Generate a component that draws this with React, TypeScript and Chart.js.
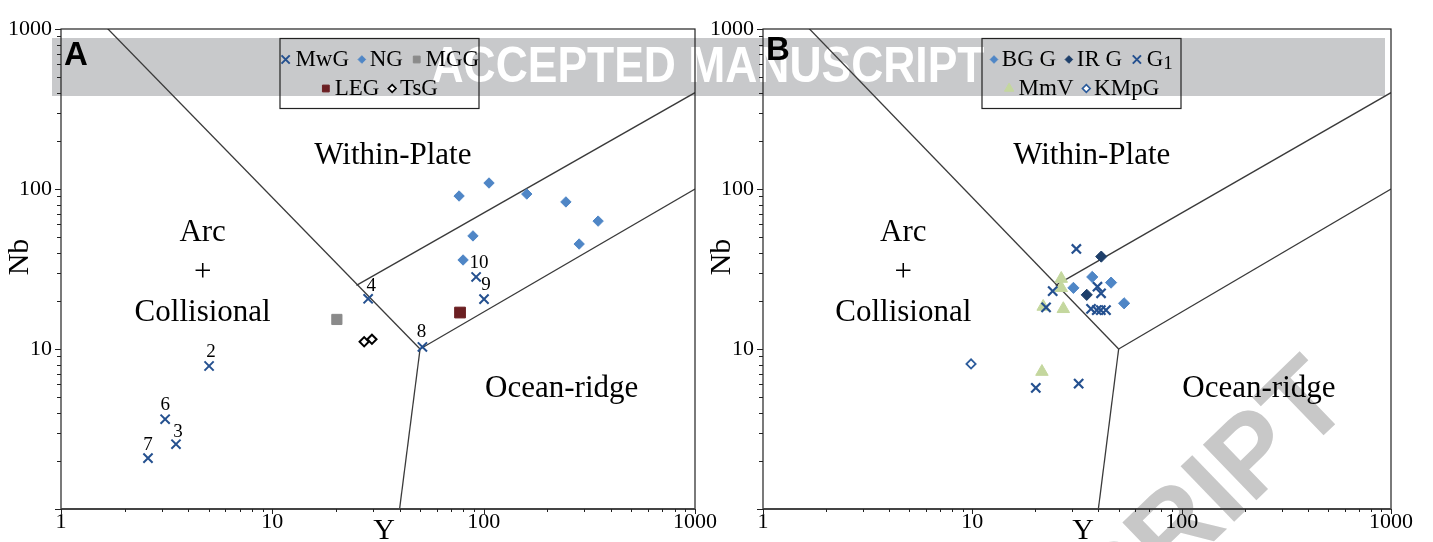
import React, { useEffect, useRef } from 'react';
import { Chart, registerables } from 'chart.js';

Chart.register(...registerables);

const SERIF = "'Liberation Serif', 'Times New Roman', serif";
const SANS = "'Liberation Sans', Arial, sans-serif";

// ---------- axes ----------
const axisMin = 1;
const axisMax = 1000;
const decadeTicks = [1, 10, 100, 1000];
const xTitle = 'Y';
const yTitle = 'Nb';

// ---------- discrimination boundaries (Y, Nb) ----------
const boundaryLines: [number, number][][] = [
  [[1, 2000], [50, 10]],
  [[50, 10], [1000, 100]],
  [[25, 25], [1000, 400]],
  [[50, 10], [40, 1]],
];

// ---------- field labels (Y, Nb) ----------
const fieldNames = ['Within-Plate', 'Arc', '+', 'Collisional', 'Ocean-ridge'];
const fieldY = [37.2, 4.68, 4.68, 4.68, 234];
const fieldNb = [161, 53, 29.9, 16.8, 5.6];

// ---------- panel A ----------
const mwgY = [2.58, 3.5, 3.11, 5.02, 28.4, 51.3, 92.1, 100.4];
const mwgNb = [2.08, 2.54, 3.64, 7.83, 20.6, 10.3, 28.2, 20.5];
const mwgNumbers = ['7', '3', '6', '2', '4', '8', '10', '9'];
const ngY = [76.5, 106, 160, 245, 348, 89, 283, 79.9];
const ngNb = [90.4, 109, 93, 83, 63, 50.9, 45.3, 36];
const mggY = [20.2];
const mggNb = [15.3];
const legY = [77.3];
const legNb = [16.9];
const tsgY = [27.2, 29.6];
const tsgNb = [11.1, 11.5];

// ---------- panel B ----------
const bggY = [30.4, 37.4, 46.0, 53.1];
const bggNb = [24.1, 28.2, 26.0, 19.3];
const irgY = [41.3, 35.2];
const irgNb = [37.8, 21.8];
const g1Y = [31.4, 24.2, 22.5, 39.6, 41.2, 36.9, 39.3, 41.1, 43.5, 20.1, 32.2];
const g1Nb = [42.2, 23.0, 18.2, 24.5, 22.3, 17.8, 17.5, 17.5, 17.5, 5.71, 6.07];
const mmvY = [26.6, 26.6, 27.2, 21.8, 21.5];
const mmvNb = [27.5, 24.1, 17.8, 18.4, 7.21];
const kmpgY = [9.86];
const kmpgNb = [8.06];

// ---------- helpers ----------
const pts = (xs: number[], ys: number[]) => xs.map((x, i) => ({ x, y: ys[i] }));
const isDecade = (v: number) => Math.abs(Math.log10(v) - Math.round(Math.log10(v))) < 1e-9;

function drawMarker(ctx: CanvasRenderingContext2D, style: string, x: number, y: number, r: number,
  stroke: string, fill: string | null, lw: number) {
  ctx.save();
  ctx.beginPath();
  ctx.lineWidth = lw;
  ctx.strokeStyle = stroke;
  if (fill) ctx.fillStyle = fill;
  if (style === 'crossRot') {
    const d = r * Math.SQRT1_2;
    ctx.moveTo(x - d, y - d); ctx.lineTo(x + d, y + d);
    ctx.moveTo(x - d, y + d); ctx.lineTo(x + d, y - d);
    ctx.stroke();
  } else if (style === 'rectRot') {
    ctx.moveTo(x, y - r); ctx.lineTo(x + r, y); ctx.lineTo(x, y + r); ctx.lineTo(x - r, y); ctx.closePath();
    if (fill) ctx.fill();
    ctx.stroke();
  } else if (style === 'rect') {
    const s = r * Math.SQRT1_2;
    ctx.rect(x - s, y - s, 2 * s, 2 * s);
    if (fill) ctx.fill();
    ctx.stroke();
  } else if (style === 'triangle') {
    const a = -Math.PI / 2;
    for (let k = 0; k < 3; k++) {
      const t = a + k * (2 * Math.PI / 3);
      const px = x + Math.cos(t) * r, py = y + Math.sin(t) * r;
      if (k === 0) ctx.moveTo(px, py); else ctx.lineTo(px, py);
    }
    ctx.closePath();
    if (fill) ctx.fill();
    ctx.stroke();
  }
  ctx.restore();
}

function scatterSet(label: string, xs: number[], ys: number[], style: string, r: number,
  fill: string, stroke: string, bw: number, legendR: number) {
  return {
    label,
    data: pts(xs, ys),
    pointStyle: style,
    pointRadius: r,
    pointBackgroundColor: fill,
    pointBorderColor: stroke,
    pointBorderWidth: bw,
    showLine: false,
    legendR,
  } as any;
}

function boundarySets() {
  return boundaryLines.map((seg) => ({
    label: '',
    data: seg.map(([x, y]) => ({ x, y })),
    showLine: true,
    borderColor: '#3a3a3a',
    borderWidth: 1.3,
    pointRadius: 0,
  } as any));
}

type PanelSpec = {
  letter: string;
  letterBase: number;
  datasets: any[];
  legendRows: number[][];
  numbers?: { idx: number; labels: string[]; offsets: [number, number][] };
  yWidth: number;
  padRight: number;
};

const panelA: PanelSpec = {
  letter: 'A',
  letterBase: 36,
  datasets: [
    scatterSet('MwG', mwgY, mwgNb, 'crossRot', 6.5, '#24508f', '#24508f', 2, 5.8),
    scatterSet('NG', ngY, ngNb, 'rectRot', 5.2, '#4f86c6', '#4f86c6', 1, 3.8),
    scatterSet('MGG', mggY, mggNb, 'rect', 7.2, '#8a8a8a', '#8a8a8a', 1, 4.8),
    scatterSet('LEG', legY, legNb, 'rect', 7.6, '#6b1f22', '#6b1f22', 1, 4.8),
    scatterSet('TsG', tsgY, tsgNb, 'rectRot', 4.6, '#ffffff', '#000000', 2, 3.8),
  ],
  legendRows: [[0, 1, 2], [3, 4]],
  numbers: {
    idx: 0,
    labels: mwgNumbers,
    offsets: [[0, -13], [2, -12], [0, -14], [2, -14], [3, -13], [-1, -15], [3, -14], [2, -14]],
  },
  yWidth: 61,
  padRight: 35,
};

const panelB: PanelSpec = {
  letter: 'B',
  letterBase: 31,
  datasets: [
    scatterSet('BG G', bggY, bggNb, 'rectRot', 5.6, '#4f86c6', '#4f86c6', 1, 3.8),
    scatterSet('IR G', irgY, irgNb, 'rectRot', 5.6, '#1e3f6a', '#1e3f6a', 1, 3.8),
    scatterSet('G_1', g1Y, g1Nb, 'crossRot', 6.5, '#24508f', '#24508f', 2.2, 5.8),
    scatterSet('MmV', mmvY, mmvNb, 'triangle', 7.2, '#c4d79e', '#c4d79e', 1, 5.4),
    scatterSet('KMpG', kmpgY, kmpgNb, 'rectRot', 4.6, '#ffffff', '#2c5c9c', 1.8, 3.8),
  ],
  legendRows: [[0, 1, 2], [3, 4]],
  yWidth: 63,
  padRight: 42,
};

function labelWidth(ctx: CanvasRenderingContext2D, label: string, font: string, subFont: string) {
  const parts = label.split('_');
  ctx.font = font;
  let w = ctx.measureText(parts[0]).width;
  if (parts[1]) { ctx.font = subFont; w += ctx.measureText(parts[1]).width; }
  return w;
}

function drawLabel(ctx: CanvasRenderingContext2D, label: string, x: number, y: number, font: string, subFont: string) {
  const parts = label.split('_');
  ctx.font = font;
  ctx.textAlign = 'left';
  ctx.textBaseline = 'middle';
  ctx.fillText(parts[0], x, y);
  if (parts[1]) {
    const w = ctx.measureText(parts[0]).width;
    ctx.font = subFont;
    ctx.fillText(parts[1], x + w, y + 5);
  }
}

function makePlugin(spec: PanelSpec) {
  return {
    id: 'panelDeco' + spec.letter,
    afterDraw(chart: any) {
      const { ctx, chartArea: ca } = chart;
      const xs = chart.scales.x, ys = chart.scales.y;
      ctx.save();
      // frame
      ctx.strokeStyle = '#222';
      ctx.lineWidth = 1.2;
      ctx.strokeRect(ca.left, ca.top, ca.right - ca.left, ca.bottom - ca.top);
      ctx.strokeStyle = '#444';
      ctx.lineWidth = 2;
      ctx.beginPath();
      ctx.moveTo(ca.left, ca.bottom); ctx.lineTo(ca.right, ca.bottom);
      ctx.stroke();
      // ticks
      ctx.strokeStyle = '#222';
      ctx.lineWidth = 1;
      for (let d = 0; d < 3; d++) {
        for (let m = 1; m <= 10; m++) {
          const v = m * Math.pow(10, d);
          const major = m === 1 || m === 10;
          const py = Math.round(ys.getPixelForValue(v)) + 0.5;
          const px = Math.round(xs.getPixelForValue(v)) + 0.5;
          ctx.beginPath();
          ctx.moveTo(ca.left, py); ctx.lineTo(ca.left - (major ? 6 : 4), py);
          ctx.moveTo(px, ca.bottom); ctx.lineTo(px, ca.bottom + (major ? 5 : 3));
          ctx.stroke();
        }
      }
      ctx.fillStyle = '#000';
      // axis titles
      ctx.font = `30px ${SERIF}`;
      ctx.textAlign = 'center';
      ctx.textBaseline = 'alphabetic';
      ctx.fillText(xTitle, (ca.left + ca.right) / 2 + 6, 539);
      ctx.save();
      ctx.translate(ca.left - 41, 257);
      ctx.rotate(-Math.PI / 2);
      ctx.textBaseline = 'middle';
      ctx.fillText(yTitle, 0, 0);
      ctx.restore();
      // field labels
      ctx.font = `31px ${SERIF}`;
      ctx.textAlign = 'center';
      ctx.textBaseline = 'middle';
      fieldNames.forEach((t, i) => {
        ctx.fillText(t, xs.getPixelForValue(fieldY[i]), ys.getPixelForValue(fieldNb[i]));
      });
      // sample numbers
      if (spec.numbers) {
        const ds = chart.data.datasets[spec.numbers.idx];
        ctx.font = `19px ${SERIF}`;
        ds.data.forEach((p: any, i: number) => {
          const [ox, oy] = spec.numbers!.offsets[i];
          ctx.fillText(spec.numbers!.labels[i], xs.getPixelForValue(p.x) + ox, ys.getPixelForValue(p.y) + oy);
        });
      }
      // panel letter
      ctx.font = `bold 33px ${SANS}`;
      ctx.textAlign = 'left';
      ctx.textBaseline = 'alphabetic';
      ctx.fillText(spec.letter, ca.left + 3, ca.top + spec.letterBase);
      // legend
      const bx = ca.left + 219, by = ca.top + 9.5, bw = 199, bh = 70;
      ctx.strokeStyle = '#222';
      ctx.lineWidth = 1.2;
      ctx.strokeRect(bx, by, bw, bh);
      const font = `23px ${SERIF}`, subFont = `19px ${SERIF}`;
      const rowY = [21, 50];
      spec.legendRows.forEach((row, ri) => {
        const items = row.map((i) => {
          const d = chart.data.datasets[i];
          const mw = d.legendR * 2;
          return { d, mw, w: mw + 4 + labelWidth(ctx, d.label, font, subFont) };
        });
        const gap = 9;
        const total = items.reduce((s, it) => s + it.w, 0) + gap * (items.length - 1);
        let x = bx + bw / 2 - total / 2;
        const cy = by + rowY[ri];
        items.forEach((it) => {
          const d = it.d;
          drawMarker(ctx, d.pointStyle, x + it.mw / 2, cy, d.legendR, d.pointBorderColor, d.pointBackgroundColor,
            d.pointStyle === 'crossRot' ? 2 : (d.pointBackgroundColor === '#ffffff' ? 1.7 : 1));
          ctx.fillStyle = '#000';
          drawLabel(ctx, d.label, x + it.mw + 4, cy, font, subFont);
          x += it.w + gap;
        });
      });
      ctx.restore();
    },
  };
}

function makeConfig(spec: PanelSpec): any {
  const tickFont = { family: SERIF, size: 22 };
  return {
    type: 'scatter',
    data: { datasets: [...spec.datasets, ...boundarySets()] },
    options: {
      responsive: false,
      animation: false,
      events: [],
      layout: { padding: { left: 0, top: 29, right: spec.padRight, bottom: 0 } },
      plugins: { legend: { display: false }, tooltip: { enabled: false } },
      scales: {
        x: {
          type: 'logarithmic', min: axisMin, max: axisMax, position: 'bottom',
          border: { display: false },
          grid: { display: false, drawTicks: false },
          ticks: {
            autoSkip: false, maxRotation: 0, padding: 0, color: '#000', font: tickFont,
            callback: (v: number) => (isDecade(v) && decadeTicks.includes(Math.round(v)) ? String(Math.round(v)) : ''),
          },
          afterFit: (s: any) => { s.height = 33; },
        },
        y: {
          type: 'logarithmic', min: axisMin, max: axisMax, position: 'left',
          border: { display: false },
          grid: { display: false, drawTicks: false },
          ticks: {
            autoSkip: false, padding: 9, color: '#000', font: tickFont,
            callback: (v: number) => (isDecade(v) && Math.round(v) !== 1 ? String(Math.round(v)) : ''),
          },
          afterFit: (s: any) => { s.width = spec.yWidth; },
        },
      },
    },
    plugins: [makePlugin(spec)],
  };
}

function drawWatermark(c: HTMLCanvasElement) {
  const ctx = c.getContext('2d')!;
  ctx.clearRect(0, 0, c.width, c.height);
  ctx.fillStyle = '#ffffff';
  ctx.fillRect(0, 0, c.width, c.height);
  ctx.fillStyle = '#c8c9cb';
  ctx.fillRect(52, 38, 1333, 58);
  ctx.fillStyle = '#ffffff';
  ctx.font = `bold 50px ${SANS}`;
  ctx.textAlign = 'center';
  ctx.textBaseline = 'middle';
  ctx.fillText('ACCEPTED MANUSCRIPT', 708, 68, 553);
  ctx.save();
  ctx.translate(1354, 406);
  ctx.rotate((-44 * Math.PI) / 180);
  ctx.fillStyle = '#c8c8c8';
  ctx.font = `bold 112px ${SANS}`;
  ctx.textAlign = 'right';
  ctx.textBaseline = 'alphabetic';
  ctx.fillText('ACCEPTED MANUSCRIPT', 0, 0);
  ctx.restore();
}

export default function App() {
  const wmRef = useRef<HTMLCanvasElement>(null);
  const aRef = useRef<HTMLCanvasElement>(null);
  const bRef = useRef<HTMLCanvasElement>(null);
  useEffect(() => {
    drawWatermark(wmRef.current!);
    const ca = new Chart(aRef.current!, makeConfig(panelA));
    const cb = new Chart(bRef.current!, makeConfig(panelB));
    return () => { ca.destroy(); cb.destroy(); };
  }, []);
  return (
    <div style={{ position: 'fixed', left: 0, top: 0, width: 1433, height: 542, background: '#fff', overflow: 'hidden' }}>
      <canvas ref={wmRef} width={1433} height={542} style={{ position: 'absolute', left: 0, top: 0 }} />
      <canvas ref={aRef} width={730} height={542} style={{ position: 'absolute', left: 0, top: 0 }} />
      <canvas ref={bRef} width={733} height={542} style={{ position: 'absolute', left: 700, top: 0 }} />
    </div>
  );
}
